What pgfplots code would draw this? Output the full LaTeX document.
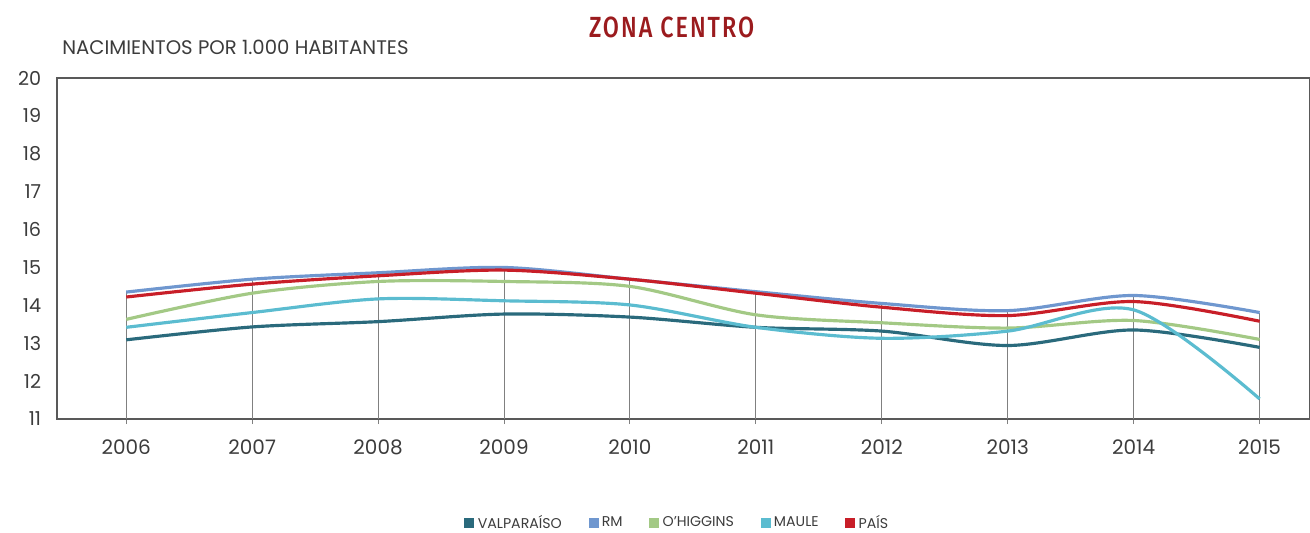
\documentclass[border=0pt]{standalone}
\usepackage{fontspec}
\setmainfont{Poppins}
\newfontfamily\titlefont[FakeStretch=0.8,LetterSpace=7]{Fira Sans Medium}
\usepackage{pgfplots}
\pgfplotsset{compat=1.18}
\definecolor{valp}{RGB}{42,106,124}
\definecolor{rm}{RGB}{111,151,207}
\definecolor{ohig}{RGB}{163,201,133}
\definecolor{maule}{RGB}{91,188,208}
\definecolor{pais}{RGB}{200,30,40}
\definecolor{titlered}{RGB}{155,27,30}
\definecolor{txt}{RGB}{60,60,60}
\begin{document}
\begin{tikzpicture}
\useasboundingbox (0,0) rectangle (786pt,319.2pt);
\begin{axis}[
  at={(34.2pt,67.8pt)}, anchor=south west,
  scale only axis, width=751.8pt, height=204.6pt,
  xmin=2005.45, xmax=2015.4, ymin=11, ymax=20,
  xtick={2006,...,2015}, ytick={11,...,20},
  xtick pos=lower,
  /pgf/number format/assume math mode=true,
  xticklabel style={/pgf/number format/1000 sep={}, font=\fontsize{12}{14}\selectfont, text=txt, yshift=-6pt},
  yticklabel style={font=\fontsize{11.5}{14}\selectfont, text=txt, xshift=-3pt},
  axis line style={gray!70!black, line width=0.8pt},
  ytick style={draw=none},
  xtick style={gray, line width=0.6pt},
  tick align=outside, major tick length=3pt,
  legend columns=5,
  legend style={at={(0.4956,-0.305)}, anchor=center, draw=none, fill=none,
    font=\fontsize{8.5}{10}\selectfont, text=txt,
    /tikz/every even column/.append style={column sep=14pt}},
  legend image code/.code={\path[#1, draw=none, fill] (0pt,-3pt) rectangle (6pt,3pt);},
  legend cell align=left,
]
\addplot[ycomb, draw=gray, line width=0.6pt, forget plot] coordinates {
(2006,14.35) (2007,14.69) (2008,14.86) (2009,15.0) (2010,14.69) (2011,14.36) (2012,14.05) (2013,13.86) (2014,14.26) (2015,13.81)};
\addplot[color=valp, line width=1.9pt, smooth, tension=0.5] coordinates {
(2006,13.09) (2007,13.43) (2008,13.57) (2009,13.77) (2010,13.69) (2011,13.42) (2012,13.32) (2013,12.94) (2014,13.35) (2015,12.89)};
\addlegendentry{VALPARAÍSO}
\addplot[color=rm, line width=1.9pt, smooth, tension=0.5] coordinates {
(2006,14.35) (2007,14.69) (2008,14.86) (2009,15.0) (2010,14.69) (2011,14.36) (2012,14.05) (2013,13.86) (2014,14.26) (2015,13.81)};
\addlegendentry{RM}
\addplot[color=ohig, line width=1.9pt, smooth, tension=0.5] coordinates {
(2006,13.63) (2007,14.32) (2008,14.63) (2009,14.63) (2010,14.5) (2011,13.75) (2012,13.54) (2013,13.4) (2014,13.6) (2015,13.1)};
\addlegendentry{O'HIGGINS}
\addplot[color=maule, line width=1.9pt, smooth, tension=0.5] coordinates {
(2006,13.42) (2007,13.81) (2008,14.17) (2009,14.12) (2010,14.01) (2011,13.42) (2012,13.13) (2013,13.32) (2014,13.88) (2015,11.53)};
\addlegendentry{MAULE}
\addplot[color=pais, line width=1.9pt, smooth, tension=0.5] coordinates {
(2006,14.22) (2007,14.56) (2008,14.78) (2009,14.93) (2010,14.69) (2011,14.32) (2012,13.95) (2013,13.73) (2014,14.1) (2015,13.58)};
\addlegendentry{PAÍS}
\end{axis}
\node[anchor=center, text=titlered, font=\titlefont\fontsize{17.5}{20}\selectfont] at (403pt,303pt) {ZONA CENTRO};
\node[anchor=west, text=txt, inner sep=0pt, font=\fontsize{11.8}{14}\selectfont] at (37.2pt,291pt) {NACIMIENTOS POR 1.000 HABITANTES};
\end{tikzpicture}
\end{document}
